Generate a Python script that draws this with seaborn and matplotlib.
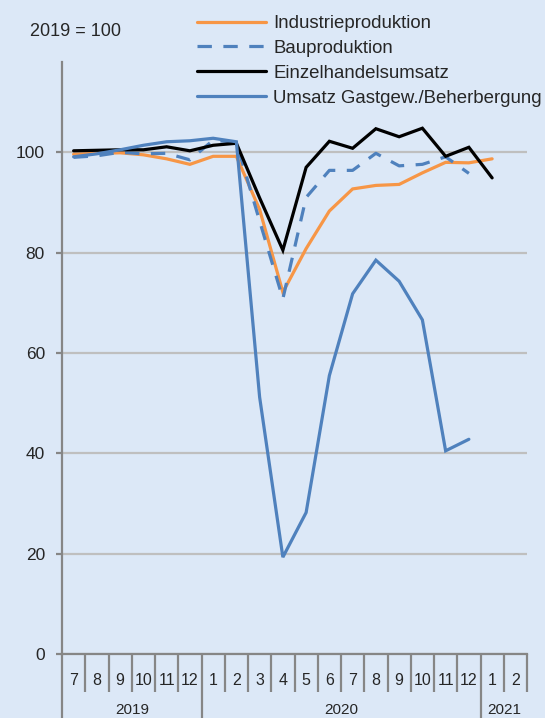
import numpy as np
import pandas as pd
import seaborn as sns
import matplotlib.pyplot as plt
import matplotlib.transforms as mtransforms

# ---- data (2019 = 100), monthly Jul 2019 - Feb 2021 ----
months = ["7", "8", "9", "10", "11", "12",
          "1", "2", "3", "4", "5", "6", "7", "8", "9", "10", "11", "12",
          "1", "2"]
years = ["2019", "2020", "2021"]
year_spans = [(0, 6), (6, 18), (18, 20)]

industrie = [99.6, 99.8, 99.9, 99.5, 98.7, 97.6, 99.2, 99.2, 88.6, 72.1,
             80.8, 88.3, 92.7, 93.4, 93.6, 95.9, 98.0, 97.9, 98.7, np.nan]
bau = [99.0, 99.3, 100.0, 99.7, 99.8, 98.5, 102.4, 102.0, 86.3, 70.8,
       91.0, 96.4, 96.4, 99.8, 97.3, 97.6, 99.1, 95.8, np.nan, np.nan]
einzelhandel = [100.3, 100.4, 100.5, 100.5, 101.1, 100.3, 101.4, 101.8, 90.9, 80.5,
                97.0, 102.2, 100.8, 104.7, 103.1, 104.8, 99.2, 101.0, 94.9, np.nan]
gastgewerbe = [99.1, 99.7, 100.5, 101.4, 102.1, 102.3, 102.8, 102.1, 51.2, 19.3,
               28.2, 55.5, 71.8, 78.5, 74.3, 66.6, 40.5, 42.8, np.nan, np.nan]

labels = ["Industrieproduktion", "Bauproduktion", "Einzelhandelsumsatz",
          "Umsatz Gastgew./Beherbergung"]

bg = "#DCE8F7"
orange = "#F79646"
blue = "#4F81BD"
grid_c = "#BFBFBF"
axis_c = "#868686"

sns.set_style("white")
plt.rcParams["font.family"] = ["Liberation Sans", "DejaVu Sans"]

fig = plt.figure(figsize=(5.45, 7.18), dpi=100, facecolor=bg)
ax = fig.add_axes([62 / 545, 64 / 718, 465 / 545, 592 / 718])
ax.set_facecolor(bg)

x = np.arange(len(months))
series = [industrie, bau, einzelhandel, gastgewerbe]
styles = [dict(color=orange), dict(color=blue, dashes=(4.5, 3.6)),
          dict(color="black"), dict(color=blue)]
for vals, lab, st in zip(series, labels, styles):
    d = pd.DataFrame({"x": x, "y": vals}).dropna()
    sns.lineplot(data=d, x="x", y="y", ax=ax, label=lab, lw=2.3,
                 solid_joinstyle="miter", **st)

ax.set_xlim(-0.5, len(months) - 0.5)
ax.set_ylim(0, 118)
ax.set_yticks([0, 20, 40, 60, 80, 100])
ax.yaxis.grid(True, color=grid_c, lw=1.6)
ax.set_axisbelow(True)
ax.set_xlabel("")
ax.set_ylabel("")
for s in ["top", "right"]:
    ax.spines[s].set_visible(False)
for s in ["left", "bottom"]:
    ax.spines[s].set_color(axis_c)
    ax.spines[s].set_linewidth(1.6)
ax.tick_params(axis="y", length=4.3, width=1.6, color=axis_c, pad=8,
               labelsize=12.5, left=True)

# month labels
ax.set_xticks(x, months)
ax.tick_params(axis="x", length=0, pad=14, labelsize=11.5)

# category separators and year labels
trans = mtransforms.blended_transform_factory(ax.transData, ax.transAxes)
year_edges = {s for s, e in year_spans}
for i in range(len(months) + 1):
    x0 = i - 0.5
    y1 = -0.108 if i in year_edges else -0.064
    ax.plot([x0, x0], [0, y1], transform=trans, color=axis_c, lw=1.6,
            clip_on=False, solid_capstyle="butt")
for yr, (s, e) in zip(years, year_spans):
    ax.text((s + e - 1) / 2, -0.082, yr, transform=trans, ha="center",
            va="top", fontsize=11)

fig.text(30 / 545, 1 - 32 / 718, "2019 = 100", fontsize=13, va="center")

leg = ax.legend(loc="upper left", bbox_to_anchor=(197 / 545, 1 - 15 / 718),
                bbox_transform=fig.transFigure, frameon=False, fontsize=13.4,
                handlelength=3.7, handletextpad=0.4, labelspacing=0.42,
                borderpad=0, borderaxespad=0)

fig.savefig("out.png", dpi=100, facecolor=bg)
